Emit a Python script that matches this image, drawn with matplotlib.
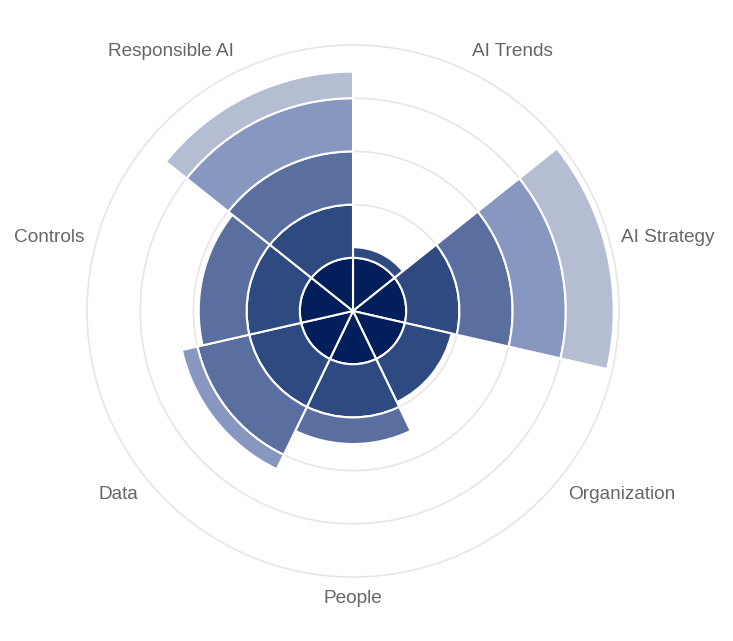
import numpy as np
import matplotlib
matplotlib.use("Agg")
import matplotlib.pyplot as plt

plt.rcParams['font.family'] = ['Liberation Sans', 'DejaVu Sans']

# categories clockwise from the top
categories = ['AI Trends', 'AI Strategy', 'Organization', 'People',
              'Data', 'Controls', 'Responsible AI']

# stacked layers (level 1 .. level 5) per category
level1 = [1.0, 1.0, 1.0, 1.0, 1.0, 1.0, 1.0]
level2 = [0.2, 1.0, 0.9, 1.0, 1.0, 1.0, 1.0]
level3 = [0.0, 1.0, 0.0, 0.5, 1.0, 0.9, 1.0]
level4 = [0.0, 1.0, 0.0, 0.0, 0.3, 0.0, 1.0]
level5 = [0.0, 0.9, 0.0, 0.0, 0.0, 0.0, 0.5]
levels = [level1, level2, level3, level4, level5]
colors = ['#031f5b', '#2e4a80', '#5b6ea0', '#8897c0', '#b4bdd2']

n = len(categories)
width = 2 * np.pi / n
theta = np.arange(n) * width

fig = plt.figure(figsize=(7.33, 6.41), dpi=100)
ax = fig.add_axes([0.1187, 0.0998, 0.7258, 0.830], projection='polar')
ax.set_theta_zero_location('N')
ax.set_theta_direction(-1)

bottom = np.zeros(n)
for vals, col in zip(levels, colors):
    vals = np.array(vals)
    mask = vals > 0
    ax.bar(theta[mask], vals[mask], width=width, bottom=bottom[mask],
           align='edge', color=col, edgecolor='white', linewidth=1.5, zorder=3)
    bottom += vals

# circular grid
ring = np.linspace(0, 2 * np.pi, 400)
for r in range(1, 6):
    ax.plot(ring, np.full_like(ring, r), color='#e6e6e6', lw=1.2,
            zorder=1, clip_on=False)

ax.set_ylim(0, 5)
ax.set_yticks([])
ax.set_xticks([])
ax.grid(False)
ax.spines['polar'].set_visible(False)

# category labels, pushed up/down a little away from the centre
for i, name in enumerate(categories):
    ang = theta[i] + width / 2
    s, c = np.sin(ang), np.cos(ang)
    if abs(s) < 0.05:
        ha = 'center'
    elif s > 0:
        ha = 'left'
    else:
        ha = 'right'
    ax.annotate(name, xy=(ang, 5.17), xytext=(0, 8.6 * np.sign(c)),
                textcoords='offset points', ha=ha, va='center',
                fontsize=13.7, color='#666666', annotation_clip=False)

fig.savefig('out.png', dpi=100)
